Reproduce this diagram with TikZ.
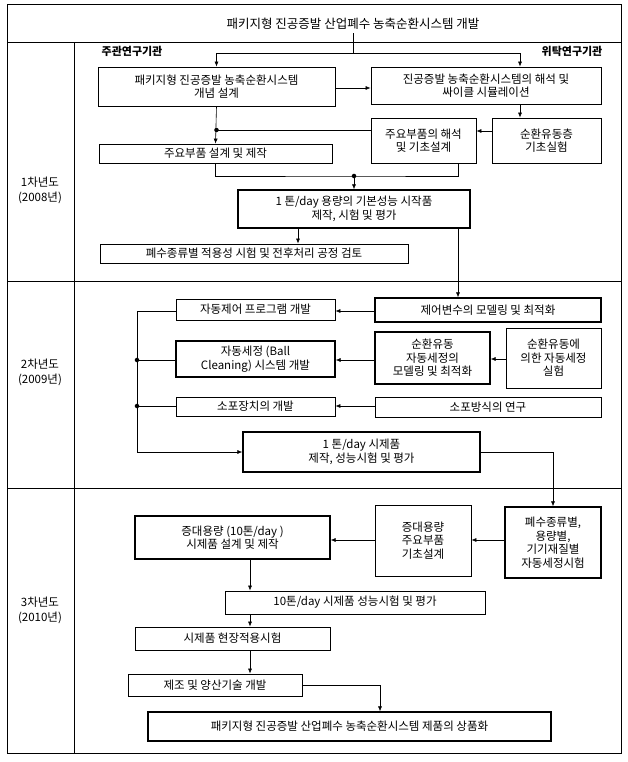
\documentclass[tikz,border=0pt]{standalone}
\usepackage{fontspec}
\setmainfont{Noto Sans CJK KR}
\usetikzlibrary{arrows.meta}
\begin{document}
\begin{tikzpicture}[x=1pt,y=-1pt,
  box/.style={draw,line width=0.8pt,inner sep=1pt,align=center,font=\fontsize{11.5}{13.5}\selectfont},
  tbox/.style={box,line width=1.2pt},
  arr/.style={line width=0.6pt,-{Latex[length=5pt,width=4pt]}},
  ln/.style={line width=0.6pt},
  dot/.style={circle,fill,inner sep=1.6pt}]
\useasboundingbox (0,0) rectangle (628,762);
\draw[line width=1pt] (7,5) rectangle (621,753);
\draw[line width=1pt] (7,43) -- (621,43);
\draw[line width=0.6pt] (74,43) -- (74,753);
\draw[line width=0.6pt] (7,281) -- (621,281) (7,488) -- (621,488);
\node[font=\fontsize{12.5}{14}\selectfont] (title) at (353,24) {패키지형  진공증발 산업폐수 농축순환시스템  개발};
\node[align=center,font=\fontsize{11.5}{15}\selectfont] (y1) at (40,190) {1차년도\\(2008년)};
\node[align=center,font=\fontsize{11.5}{15}\selectfont] (y2) at (40,372) {2차년도\\(2009년)};
\node[align=center,font=\fontsize{11.5}{15}\selectfont] (y3) at (40,610) {3차년도\\(2010년)};
\node[font=\bfseries\fontsize{11}{12}\selectfont] (l1) at (132,51) {주관연구기관};
\node[font=\bfseries\fontsize{11}{12}\selectfont] (l2) at (572,51) {위탁연구기관};
% row 1
\node[box,minimum width=237pt,minimum height=39pt] (A) at (216.5,86.5) {패키지형 진공증발 농축순환시스템\\개념 설계};
\node[box,minimum width=230pt,minimum height=37pt] (B) at (486,85.5) {진공증발 농축순환시스템의 해석 및\\싸이클 시뮬레이션};
\node[box,minimum width=105pt,minimum height=45pt] (C) at (423.5,140.5) {주요부품의 해석\\및 기초설계};
\node[box,minimum width=109pt,minimum height=45pt] (D) at (546.5,140.5) {순환유동층\\기초실험};
\node[box,minimum width=233pt,minimum height=19pt] (E) at (215.5,153.5) {주요부품 설계 및 제작};
\node[tbox,minimum width=232pt,minimum height=38pt] (F) at (354,209) {1 톤/day 용량의 기본성능 시작품\\제작, 시험 및 평가};
\node[box,minimum width=308pt,minimum height=19pt] (G) at (254,253.5) {폐수종류별 적용성 시험 및 전후처리 공정 검토};
\coordinate (t1) at (353,53);
\draw[ln] (title.south -| t1) -- (t1);
\draw[arr] (t1) -| (A.north);
\draw[arr] (t1) -| (B.north -| 520,0);
\draw[arr] (A.east |- 0,88) -- (B.west |- 0,88);
\draw[arr] (B.south -| 520,0) -- (D.north -| 520,0);
\draw[arr] (D.west |- 0,131) -- (C.east |- 0,131);
\coordinate (d1) at (A.south |- 0,130);
\draw[ln] (C.west |- 0,130) -- (d1);
\node[dot] at (d1) {};
\draw[arr] (A.south) -- (E.north);
\coordinate (d2) at (354,176);
\draw[ln] (E.south) |- (d2) -| (C.south -| 458,0);
\node[dot] at (d2) {};
\draw[arr] (d2) -- (F.north);
\draw[arr] (F.south -| 298,0) -- (G.north -| 298,0);
% row 2
\node[box,minimum width=159pt,minimum height=21pt] (H) at (255.5,309.5) {자동제어 프로그램 개발};
\node[tbox,minimum width=226pt,minimum height=24pt] (I) at (488,310) {제어변수의 모델링 및 최적화};
\node[tbox,minimum width=159pt,minimum height=36pt] (J) at (255.5,359) {자동세정 (Ball\\Cleaning) 시스템 개발};
\node[tbox,minimum width=115pt,minimum height=52pt] (K) at (432.5,358) {순환유동\\자동세정의\\모델링 및 최적화};
\node[box,minimum width=95pt,minimum height=60pt] (L) at (553.5,358) {순환유동에\\의한 자동세정\\실험};
\node[box,minimum width=159pt,minimum height=19pt] (M) at (255.5,406.5) {소포장치의 개발};
\node[box,minimum width=226pt,minimum height=20pt] (N) at (488,407) {소포방식의 연구};
\node[tbox,minimum width=237pt,minimum height=40pt] (O) at (361.5,452) {1 톤/day 시제품\\제작, 성능시험 및 평가};
\draw[arr] (F.south -| 458,0) -- (I.north -| 458,0);
\draw[arr] (I.west |- 0,311) -- (H.east |- 0,311);
\draw[arr] (K.west |- 0,360) -- (J.east |- 0,360);
\draw[arr] (L.west |- 0,359) -- (K.east |- 0,359);
\draw[arr] (N.west |- 0,406) -- (M.east |- 0,406);
\coordinate (b1) at (137,311);
\coordinate (b2) at (137,360);
\coordinate (b3) at (137,406);
\draw[ln] (H.west |- b1) -- (b1);
\draw[ln] (J.west |- b2) -- (b2);
\draw[ln] (M.west |- b3) -- (b3);
\draw[arr] (b1) |- (O.west);
\node[dot] at (b2) {};
\node[dot] at (b3) {};
% row 3
\node[tbox,minimum width=96pt,minimum height=71pt] (P) at (553,542.5) {폐수종류별,\\용량별,\\기기재질별\\자동세정시험};
\node[box,minimum width=96pt,minimum height=71pt] (Q) at (423,540.5) {증대용량\\주요부품\\기초설계};
\node[tbox,minimum width=195pt,minimum height=43pt] (R) at (232.5,537.5) {증대용량 (10톤/day )\\시제품 설계 및 제작};
\node[box,minimum width=260pt,minimum height=23pt] (S) at (355,602.5) {10톤/day 시제품 성능시험 및 평가};
\node[box,minimum width=195pt,minimum height=23pt] (T) at (232.5,638.5) {시제품 현장적용시험};
\node[box,minimum width=174pt,minimum height=22pt] (U) at (215,685) {제조 및 양산기술 개발};
\node[tbox,minimum width=403pt,minimum height=29pt] (V) at (349.5,726.5) {패키지형 진공증발 산업폐수 농축순환시스템 제품의 상품화};
\draw[arr] (O.east) -| (P.north);
\draw[arr] (P.west |- 0,540) -- (Q.east |- 0,540);
\draw[arr] (Q.west |- 0,540) -- (R.east |- 0,540);
\draw[arr] (R.south -| 250,0) -- (S.north -| 250,0);
\draw[arr] (S.south -| 250,0) -- (T.north -| 250,0);
\draw[arr] (T.south -| 250,0) -- (U.north -| 250,0);
\draw[arr] (U.east) -| (V.north -| 380,0);
\end{tikzpicture}
\end{document}
